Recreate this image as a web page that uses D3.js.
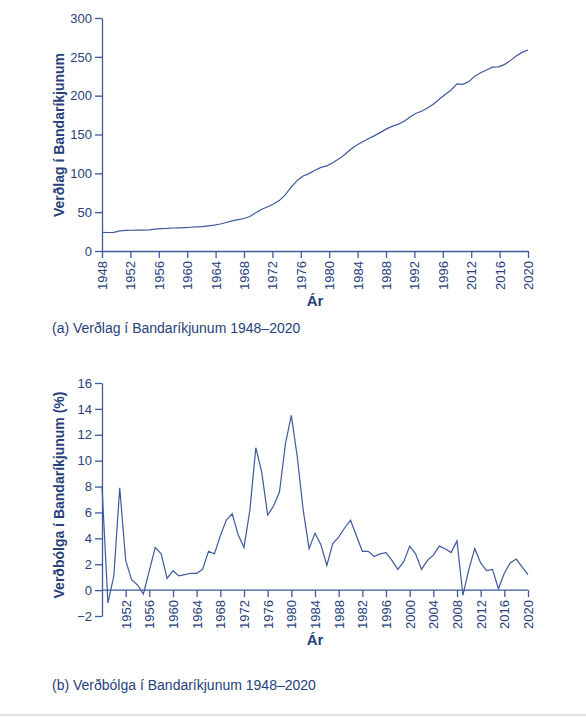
<!DOCTYPE html>
<html><head><meta charset="utf-8">
<script src="https://cdn.jsdelivr.net/npm/d3@7"></script>
<style>body{margin:0;background:#fff;font-family:"Liberation Sans",Arial,sans-serif;}</style>
</head><body><div id="chart"></div>
<script>
let years = d3.range(1948, 2021);
let priceLevel = [24.1,23.8,24.1,26.0,26.5,26.7,26.9,26.8,27.2,28.1,28.9,29.1,29.6,29.9,30.2,30.6,31.0,31.5,32.4,33.4,34.8,36.7,38.8,40.5,41.8,44.4,49.3,53.8,56.9,60.6,65.2,72.6,82.4,90.9,96.5,99.6,103.9,107.6,109.6,113.6,118.3,124.0,130.7,136.2,140.3,144.5,148.2,152.4,156.9,160.5,163.0,166.6,172.2,177.1,179.9,184.0,188.9,195.3,201.6,207.3,215.3,214.5,218.1,224.9,229.6,233.0,236.7,237.0,240.0,245.1,251.1,255.7,258.8];
let inflation = [8.0,-1.0,1.1,7.9,2.3,0.8,0.4,-0.3,1.5,3.3,2.8,0.9,1.5,1.1,1.2,1.3,1.3,1.6,3.0,2.8,4.2,5.4,5.9,4.3,3.3,6.2,11.0,9.1,5.8,6.5,7.6,11.3,13.5,10.3,6.2,3.2,4.4,3.5,1.9,3.6,4.1,4.8,5.4,4.2,3.0,3.0,2.6,2.8,2.9,2.3,1.6,2.2,3.4,2.8,1.6,2.3,2.7,3.4,3.2,2.9,3.8,-0.4,1.6,3.2,2.1,1.5,1.6,0.1,1.3,2.1,2.4,1.8,1.2];
let topTickLabels = ["1948","1952","1956","1960","1964","1968","1972","1976","1980","1984","1988","1992","1996","2012","2016","2020"];
let bottomTickYears = d3.range(1952, 2021, 4);
let bottomTickLabels = ["1952","1956","1960","1964","1968","1972","1976","1980","1984","1988","1982","1996","2000","2004","2008","2012","2016","2020"];
let priceTicks = [0,50,100,150,200,250,300];
let inflationTicks = [-2,0,2,4,6,8,10,12,14,16];

let navy = "#27407a", lineCol = "#3d5a9c";
let svg = d3.select("#chart").append("svg").attr("width",586).attr("height",717);

function styleAxis(g){
  g.selectAll("path,line").attr("stroke", lineCol).attr("stroke-width",1.3);
  g.selectAll("text").attr("fill", navy).attr("font-size",13).attr("font-family","Liberation Sans, Arial, sans-serif");
}

// (a) price level
let x1 = d3.scaleLinear().domain([1948,2020]).range([102,528]);
let xt1 = d3.scalePoint().domain(topTickLabels).range([102,528]);
let y1 = d3.scaleLinear().domain([0,300]).range([251,18]);

svg.append("g").attr("transform","translate(102,0)")
  .call(d3.axisLeft(y1).tickValues(priceTicks).tickSize(7).tickSizeOuter(0)).call(styleAxis);
let gx1 = svg.append("g").attr("transform","translate(0,251)")
  .call(d3.axisBottom(xt1).tickSize(7).tickSizeOuter(0)).call(styleAxis);
gx1.selectAll("text").attr("transform","rotate(-90)").attr("text-anchor","end")
  .attr("x",-10).attr("y",0).attr("dy","0.35em");
svg.append("path").datum(years)
  .attr("fill","none").attr("stroke",lineCol).attr("stroke-width",1.2)
  .attr("d", d3.line().x(d => x1(d)).y((d,i) => y1(priceLevel[i])));
svg.append("text").attr("x",315).attr("y",306).attr("text-anchor","middle")
  .attr("fill",navy).attr("font-weight","bold").attr("font-size",15).text("Ár");
svg.append("text").attr("transform","translate(64,135) rotate(-90)").attr("text-anchor","middle")
  .attr("fill",navy).attr("font-weight","bold").attr("font-size",14).text("Verðlag í Bandaríkjunum");
svg.append("text").attr("x",52).attr("y",333).attr("fill",navy).attr("font-size",14)
  .text("(a) Verðlag í Bandaríkjunum 1948–2020");

// (b) inflation
let x2 = d3.scaleLinear().domain([1948,2020]).range([102,528]);
let y2 = d3.scaleLinear().domain([-2,16]).range([616,383]);

svg.append("g").attr("transform","translate(102,0)")
  .call(d3.axisLeft(y2).tickValues(inflationTicks).tickSize(7).tickSizeOuter(0)
    .tickFormat(d => d < 0 ? "−" + Math.abs(d) : d)).call(styleAxis);
let gx2 = svg.append("g").attr("transform",`translate(0,${y2(0)})`)
  .call(d3.axisBottom(x2).tickValues(bottomTickYears).tickSize(7).tickSizeOuter(0)
    .tickFormat((d,i) => bottomTickLabels[i])).call(styleAxis);
gx2.select("path").attr("d","M102,0H528");
gx2.selectAll("text").attr("transform","rotate(-90)").attr("text-anchor","end")
  .attr("x",-10).attr("y",0).attr("dy","0.35em");
svg.append("path").datum(years)
  .attr("fill","none").attr("stroke",lineCol).attr("stroke-width",1.2)
  .attr("d", d3.line().x(d => x2(d)).y((d,i) => y2(inflation[i])));
svg.append("text").attr("x",315).attr("y",645).attr("text-anchor","middle")
  .attr("fill",navy).attr("font-weight","bold").attr("font-size",15).text("Ár");
svg.append("text").attr("transform","translate(64,495) rotate(-90)").attr("text-anchor","middle")
  .attr("fill",navy).attr("font-weight","bold").attr("font-size",14).text("Verðbólga í Bandaríkjunum (%)");
svg.append("text").attr("x",52).attr("y",690).attr("fill",navy).attr("font-size",14)
  .text("(b) Verðbólga í Bandaríkjunum 1948–2020");

svg.append("line").attr("x1",0).attr("x2",586).attr("y1",715).attr("y2",715)
  .attr("stroke","#d8d8d8").attr("stroke-width",1.5);
</script></body></html>
